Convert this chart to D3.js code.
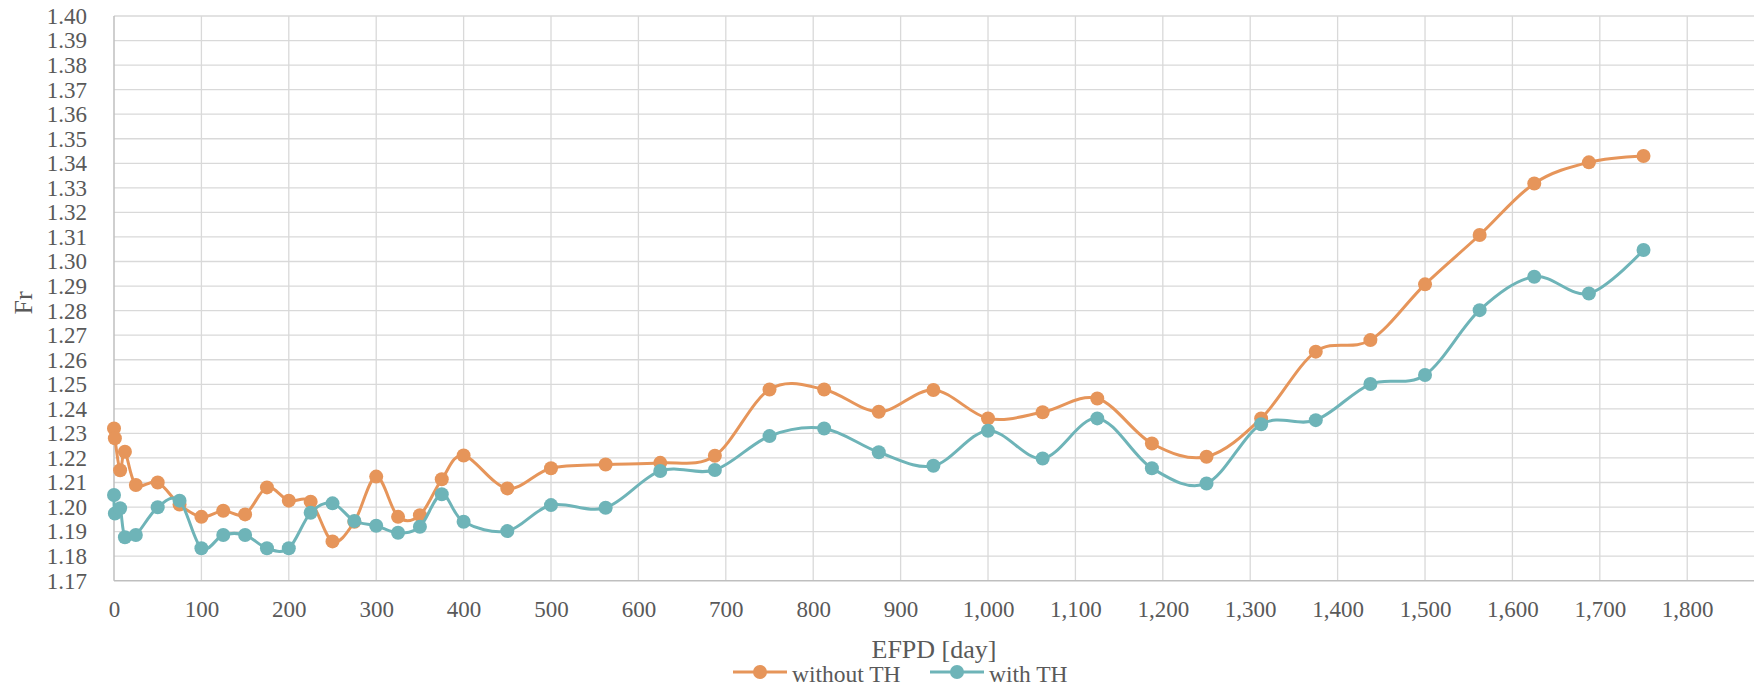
<!DOCTYPE html>
<html>
<head>
<meta charset="utf-8">
<style>
body { margin: 0; background: #fff; }
.axis text { font-family: "Liberation Serif", "Times New Roman", serif; font-size: 23px; fill: #595959; }
.axis .domain { display: none; }
.axis line { display: none; }
</style>
</head>
<body>
<svg width="1754" height="688"></svg>
<script src="https://d3js.org/d3.v7.min.js"></script>
<script>

// EFPD in days (x values shared by both series)
var days = [0, 1, 7, 12.5, 25, 50, 75, 100, 125, 150, 175, 200, 225, 250, 275, 300, 325, 350, 375, 400,
  450, 500, 562.5, 625, 687.5, 750, 812.5, 875, 937.5, 1000, 1062.5, 1125, 1187.5, 1250, 1312.5,
  1375, 1437.5, 1500, 1562.5, 1625, 1687.5, 1750];

var withoutTH = [1.232, 1.228, 1.215, 1.2225, 1.209, 1.210, 1.201, 1.196, 1.1985, 1.197, 1.208, 1.2026,
  1.2022, 1.186, 1.194, 1.2124, 1.196, 1.1967, 1.2113, 1.221, 1.2076, 1.2158, 1.2173, 1.218, 1.2209,
  1.2479, 1.2479, 1.2388, 1.2477, 1.2361, 1.2386, 1.2442, 1.2259, 1.2205, 1.2361, 1.2633, 1.268,
  1.2907, 1.3108, 1.3318, 1.3404, 1.343];

var withTH = [1.2049, 1.1974, 1.1995, 1.1877, 1.1886, 1.1999, 1.2026, 1.1832, 1.1886, 1.1886, 1.1832,
  1.1832, 1.1977, 1.2015, 1.1943, 1.1924, 1.1895, 1.192, 1.2052, 1.194, 1.1902, 1.2008, 1.1997,
  1.2147, 1.2151, 1.2289, 1.232, 1.2223, 1.2168, 1.2311, 1.2198, 1.2361, 1.2158, 1.2096, 1.2337,
  1.2354, 1.2501, 1.2538, 1.2802, 1.2938, 1.287, 1.3047];

var xTicks = d3.range(0, 1801, 100);
var yTicks = d3.range(117, 141).map(function(d) { return d / 100; });

var series = [
  {name: "without TH", color: "#E6955A", values: withoutTH},
  {name: "with TH", color: "#6EB4B8", values: withTH}
];

var svg = d3.select("svg"),
    plotLeft = 114, plotRight = 1754, plotTop = 16, plotBottom = 580.7;

var x = d3.scaleLinear().domain([0, 1876.4]).range([plotLeft, plotRight]);
var y = d3.scaleLinear().domain([1.17, 1.40]).range([plotBottom, plotTop]);

// gridlines
svg.append("g").selectAll("line")
  .data(yTicks.slice(1))
  .enter().append("line")
    .attr("x1", plotLeft).attr("x2", plotRight)
    .attr("y1", function(d) { return y(d); })
    .attr("y2", function(d) { return y(d); })
    .attr("stroke", "#d9d9d9").attr("stroke-width", 1.3);

svg.append("g").selectAll("line")
  .data(xTicks.slice(1))
  .enter().append("line")
    .attr("x1", function(d) { return x(d); })
    .attr("x2", function(d) { return x(d); })
    .attr("y1", plotTop).attr("y2", plotBottom)
    .attr("stroke", "#d9d9d9").attr("stroke-width", 1.3);

// axis lines
svg.append("line").attr("x1", plotLeft).attr("x2", plotLeft).attr("y1", plotTop).attr("y2", plotBottom)
  .attr("stroke", "#bfbfbf").attr("stroke-width", 1.5);
svg.append("line").attr("x1", plotLeft).attr("x2", plotRight).attr("y1", plotBottom).attr("y2", plotBottom)
  .attr("stroke", "#bfbfbf").attr("stroke-width", 1.5);

// tick labels
svg.append("g")
    .attr("class", "axis")
    .attr("transform", "translate(" + plotLeft + ",0)")
    .call(d3.axisLeft(y).tickValues(yTicks).tickFormat(d3.format(".2f")).tickSize(0).tickPadding(27));

svg.append("g")
    .attr("class", "axis")
    .attr("transform", "translate(0," + plotBottom + ")")
    .call(d3.axisBottom(x).tickValues(xTicks).tickFormat(d3.format(",")).tickSize(0).tickPadding(20));

// axis titles
svg.append("text")
    .attr("x", (plotLeft + plotRight) / 2)
    .attr("y", 658)
    .attr("text-anchor", "middle")
    .attr("font-family", "Liberation Serif, serif")
    .attr("font-size", 26)
    .attr("fill", "#595959")
    .text("EFPD [day]");

svg.append("text")
    .attr("transform", "translate(32,303) rotate(-90)")
    .attr("text-anchor", "middle")
    .attr("font-family", "Liberation Serif, serif")
    .attr("font-size", 26)
    .attr("fill", "#595959")
    .text("Fr");

var line = d3.line()
    .x(function(d) { return x(d[0]); })
    .y(function(d) { return y(d[1]); })
    .curve(d3.curveCardinal.tension(0));

series.forEach(function(s) {
  var pts = days.map(function(d, i) { return [d, s.values[i]]; });
  var g = svg.append("g");
  g.append("path")
      .datum(pts)
      .attr("fill", "none")
      .attr("stroke", s.color)
      .attr("stroke-width", 3)
      .attr("d", line);
  g.selectAll("circle")
    .data(pts)
    .enter().append("circle")
      .attr("cx", function(d) { return x(d[0]); })
      .attr("cy", function(d) { return y(d[1]); })
      .attr("r", 7)
      .attr("fill", s.color);
});

// legend
var legendX = [733, 930];
var legend = svg.append("g")
  .selectAll("g")
  .data(series)
  .enter().append("g")
    .attr("transform", function(d, i) { return "translate(" + legendX[i] + ",672)"; });

legend.append("line")
    .attr("x1", 0).attr("x2", 54)
    .attr("stroke", function(d) { return d.color; })
    .attr("stroke-width", 3);

legend.append("circle")
    .attr("cx", 27)
    .attr("r", 7)
    .attr("fill", function(d) { return d.color; });

legend.append("text")
    .attr("x", 59)
    .attr("y", 9.5)
    .attr("font-family", "Liberation Serif, serif")
    .attr("font-size", 23.5)
    .attr("fill", "#595959")
    .text(function(d) { return d.name; });

</script>
</body>
</html>
